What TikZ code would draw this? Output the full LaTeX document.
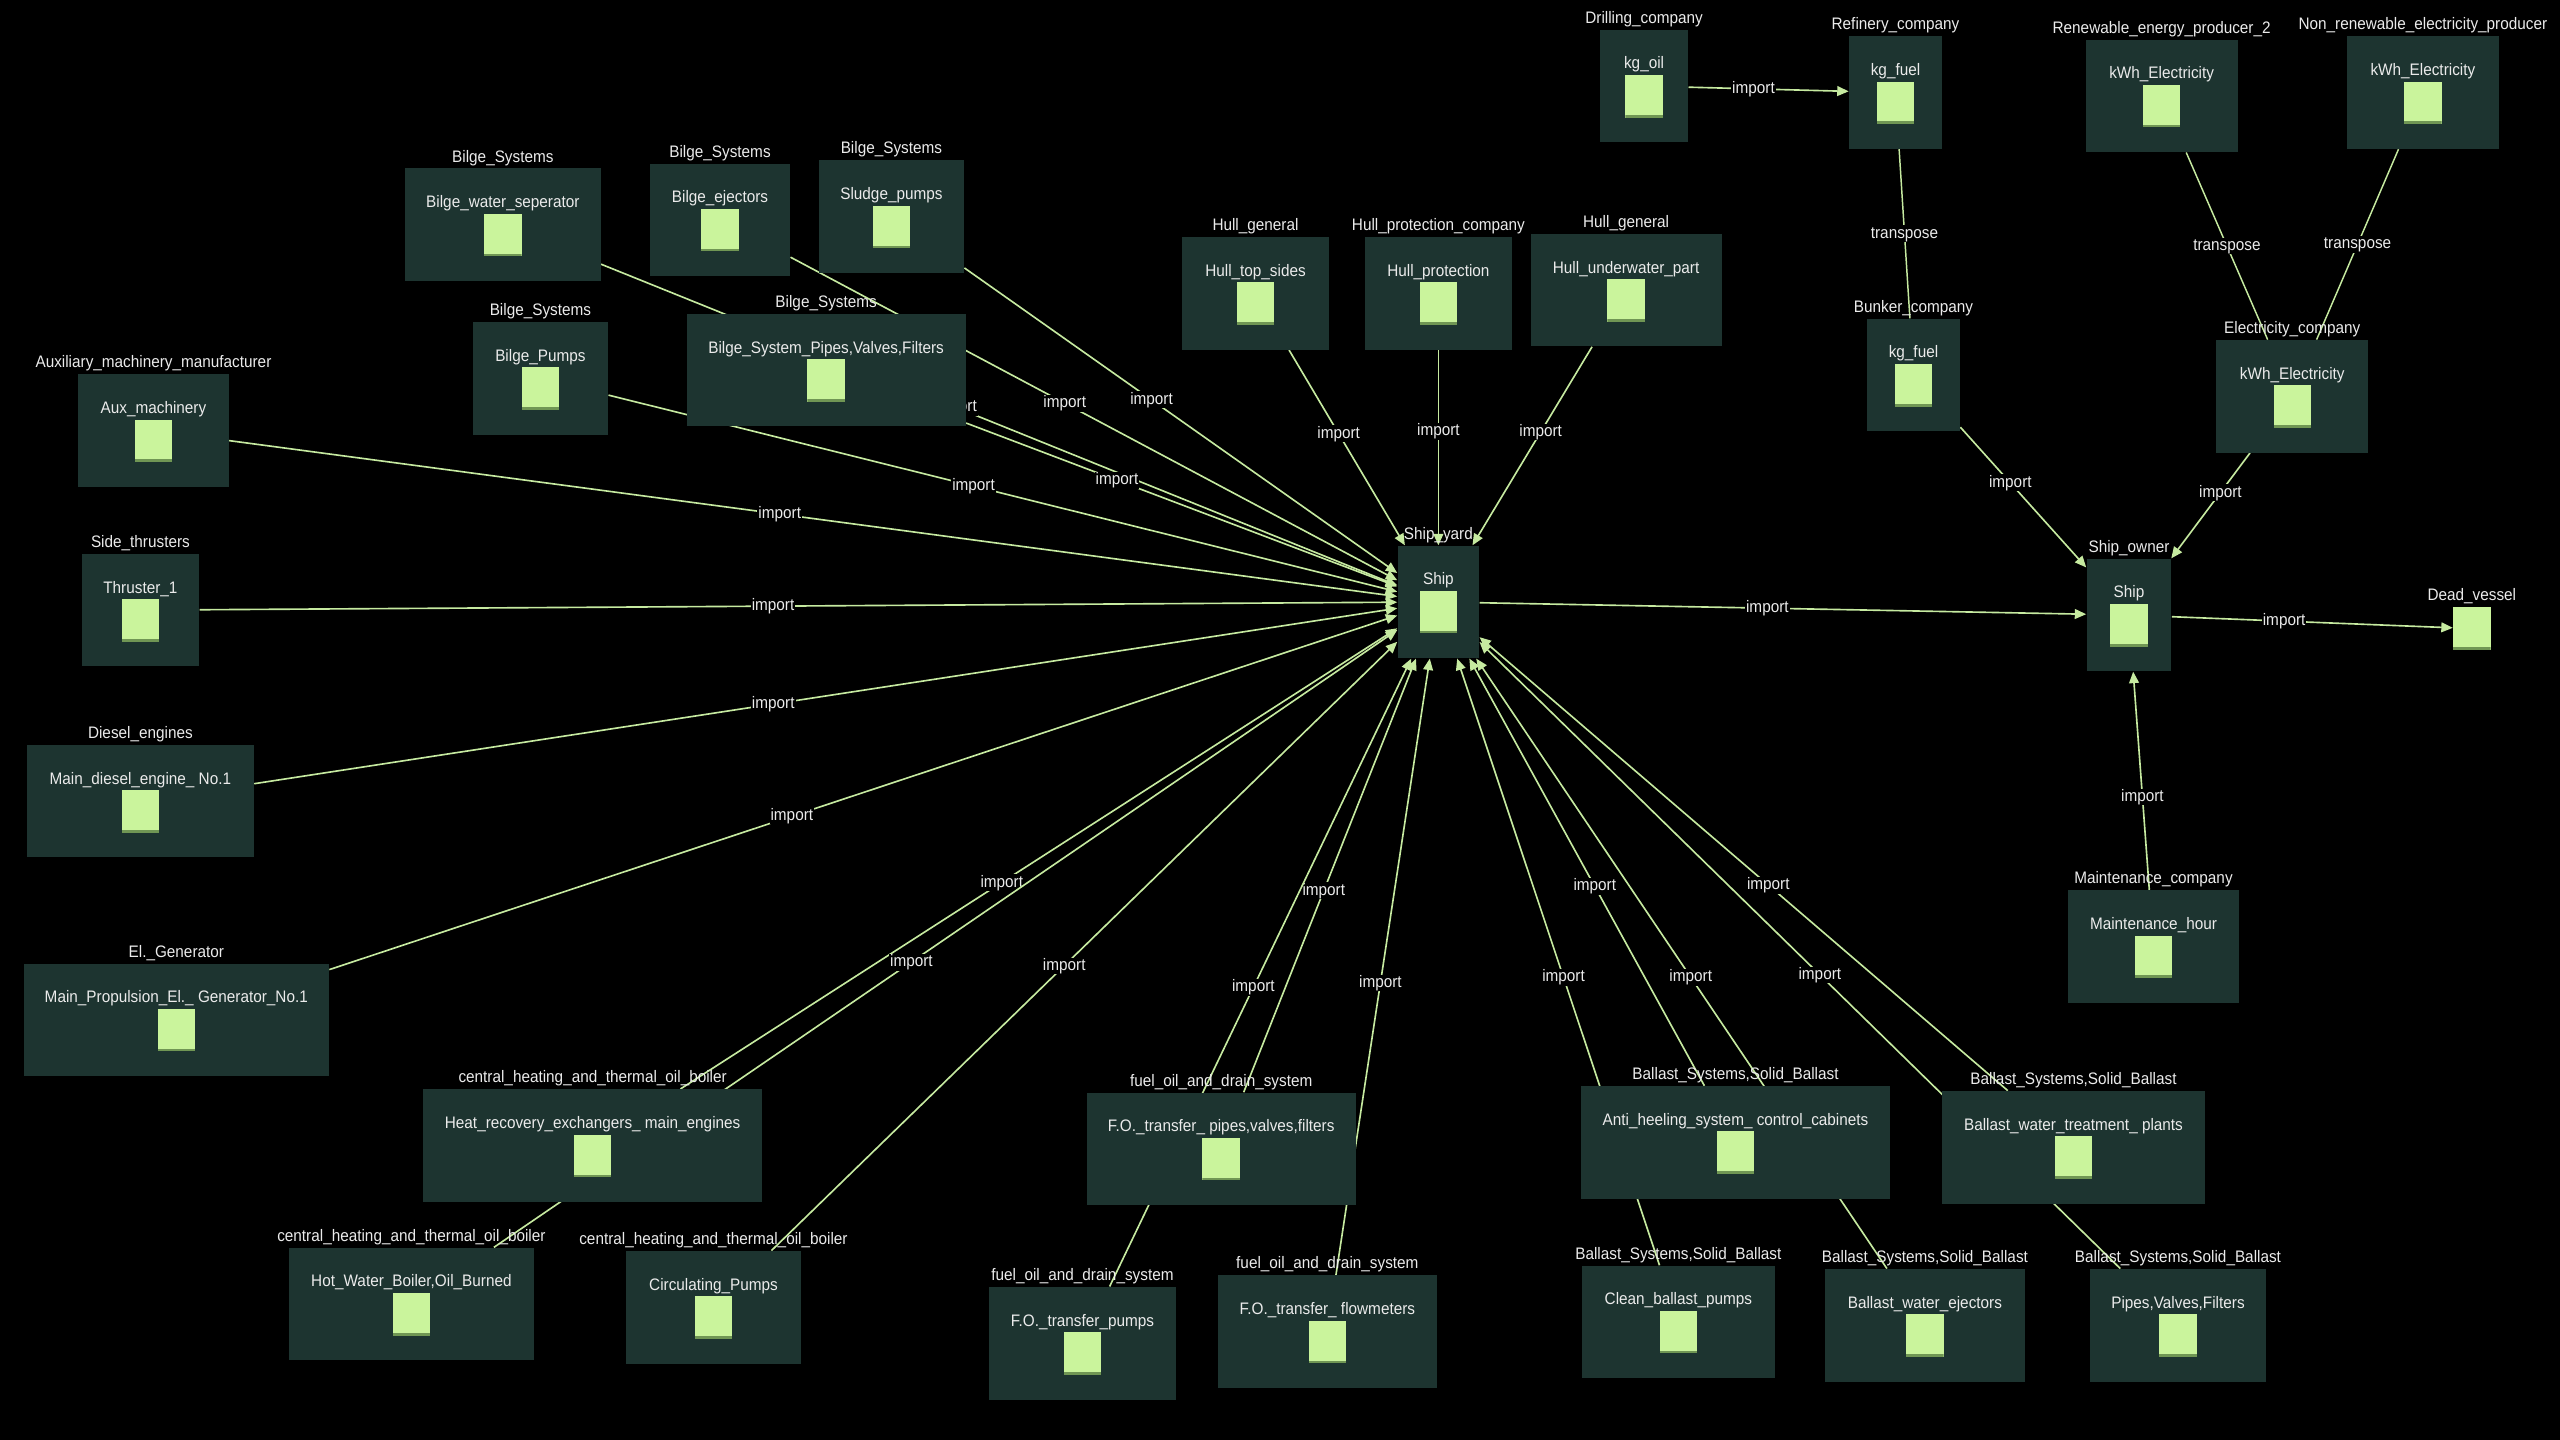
\documentclass[tikz,border=0pt]{standalone}
\usepackage{fontspec}
\setmainfont{Liberation Sans}[FakeStretch=0.92]
\usepackage{xcolor}
\usetikzlibrary{arrows.meta, calc, positioning}
\definecolor{boxfill}{RGB}{29,52,48}
\definecolor{sqgreen}{RGB}{202,244,156}
\definecolor{sqshade}{RGB}{112,150,84}
\definecolor{linegreen}{RGB}{198,234,160}
\definecolor{txtgray}{RGB}{235,235,235}
\pgfdeclarelayer{canvas}
\pgfdeclarelayer{edges}
\pgfsetlayers{canvas,edges,main}
\tikzset{
  abox/.style={fill=boxfill, minimum height=69, anchor=north, inner sep=0pt},
  sq/.style={fill=sqgreen, minimum width=23, minimum height=26, inner sep=0pt,
    path picture={\fill[sqshade] (path picture bounding box.south west) rectangle ([yshift=1.6pt]path picture bounding box.south east);}},
  txt/.style={text=txtgray, font=\fontsize{10.2}{11}\selectfont, inner sep=0.6pt, text height=7.3pt, text depth=1.8pt},
  lbl/.style={txt, fill=black},
  flow/.style={draw=linegreen, line width=1pt, -{Triangle[length=7pt,width=6pt]}},
  plain/.style={draw=linegreen, line width=0.9pt}
}
% box: nome, x, y (bordo superiore), larghezza, gruppo, testo
\newcommand{\assetbox}[6]{
  \node[abox, minimum width=#4] (#1) at (#2,#3) {};
  \node[txt] (#1-grp) at ([yshift=6.5pt]#1.north) {#5};
  \node[txt] (#1-name) at ([yshift=-21.5pt]#1.north) {#6};
  \node[sq] (#1-sq) at ([yshift=-41pt]#1.north) {};
}
% arco import: etichetta un po' verso la sorgente
\newcommand{\importlink}[2]{
  \draw[flow] (#1) -- (#2);
  \node[lbl] at ($(#1)!.5!(#2)!10pt!(#1)$) {import};
}

\begin{document}
\begin{tikzpicture}[x=1pt, y=-1pt]
    \useasboundingbox (0,0) rectangle (1568,882);
    \begin{pgfonlayer}{canvas}
    \fill[black] (0,0) rectangle (1568,882);
    \end{pgfonlayer}

    % Fornitori di energia e combustibile
    \assetbox{oil}{1007}{18}{54}{Drilling\_company}{kg\_oil}
    \assetbox{rfuel}{1161}{22}{57}{Refinery\_company}{kg\_fuel}
    \assetbox{renew}{1324}{24}{93}{Renewable\_energy\_producer\_2}{kWh\_Electricity}
    \assetbox{nonrenew}{1484}{22}{93}{Non\_renewable\_electricity\_producer}{kWh\_Electricity}
    \assetbox{bfuel}{1172}{195}{57}{Bunker\_company}{kg\_fuel}
    \assetbox{elec}{1404}{208}{93}{Electricity\_company}{kWh\_Electricity}

    % Scafo
    \assetbox{hts}{769}{145}{90}{Hull\_general}{Hull\_top\_sides}
    \assetbox{hprot}{881}{145}{90}{Hull\_protection\_company}{Hull\_protection}
    \assetbox{huw}{996}{143}{117}{Hull\_general}{Hull\_underwater\_part}

    % Sentina
    \assetbox{bws}{308}{103}{120}{Bilge\_Systems}{Bilge\_water\_seperator}
    \assetbox{bej}{441}{100}{86}{Bilge\_Systems}{Bilge\_ejectors}
    \assetbox{sludge}{546}{98}{89}{Bilge\_Systems}{Sludge\_pumps}
    \assetbox{bpumps}{331}{197}{83}{Bilge\_Systems}{Bilge\_Pumps}
    \assetbox{bpipes}{506}{192}{171}{Bilge\_Systems}{Bilge\_System\_Pipes,Valves,Filters}

    % Macchinari
    \assetbox{aux}{94}{229}{92}{Auxiliary\_machinery\_manufacturer}{Aux\_machinery}
    \assetbox{thr}{86}{339}{72}{Side\_thrusters}{Thruster\_1}
    \assetbox{diesel}{86}{456}{139}{Diesel\_engines}{Main\_diesel\_engine\_ No.1}
    \assetbox{gen}{108}{590}{187}{El.\_Generator}{Main\_Propulsion\_El.\_ Generator\_No.1}

    % Riscaldamento
    \assetbox{heat}{363}{667}{208}{central\_heating\_and\_thermal\_oil\_boiler}{Heat\_recovery\_exchangers\_ main\_engines}
    \assetbox{hotw}{252}{764}{150}{central\_heating\_and\_thermal\_oil\_boiler}{Hot\_Water\_Boiler,Oil\_Burned}
    \assetbox{circ}{437}{766}{107}{central\_heating\_and\_thermal\_oil\_boiler}{Circulating\_Pumps}

    % Combustibile
    \assetbox{fopipes}{748}{669}{165}{fuel\_oil\_and\_drain\_system}{F.O.\_transfer\_ pipes,valves,filters}
    \assetbox{fopumps}{663}{788}{115}{fuel\_oil\_and\_drain\_system}{F.O.\_transfer\_pumps}
    \assetbox{foflow}{813}{781}{134}{fuel\_oil\_and\_drain\_system}{F.O.\_transfer\_ flowmeters}

    % Zavorra
    \assetbox{anti}{1063}{665}{189}{Ballast\_Systems,Solid\_Ballast}{Anti\_heeling\_system\_ control\_cabinets}
    \assetbox{bwt}{1270}{668}{161}{Ballast\_Systems,Solid\_Ballast}{Ballast\_water\_treatment\_ plants}
    \assetbox{clean}{1028}{775}{118}{Ballast\_Systems,Solid\_Ballast}{Clean\_ballast\_pumps}
    \assetbox{bwej}{1179}{777}{122}{Ballast\_Systems,Solid\_Ballast}{Ballast\_water\_ejectors}
    \assetbox{pvf}{1334}{777}{108}{Ballast\_Systems,Solid\_Ballast}{Pipes,Valves,Filters}

    % Nave
    \assetbox{yard}{881}{334}{50}{Ship\_yard}{Ship}
    \assetbox{owner}{1304}{342}{52}{Ship\_owner}{Ship}
    \assetbox{maint}{1319}{545}{105}{Maintenance\_company}{Maintenance\_hour}
    \node[sq] (dead) at (1514,385) {};
    \node[txt] (dead-grp) at ([yshift=7pt]dead.north) {Dead\_vessel};

    % Archi
    \begin{pgfonlayer}{edges}
    \foreach \src in {bws, bej, sludge, bpumps, bpipes, aux, thr, diesel, gen,
                      heat, hotw, circ, fopipes, fopumps, foflow,
                      anti, bwt, clean, bwej, pvf, hts, hprot, huw}{
        \importlink{\src}{yard}
    }
    \importlink{oil}{rfuel}
    \draw[plain] (rfuel) -- node[lbl]{transpose} (bfuel);
    \draw[plain] (renew) -- node[lbl]{transpose} (elec);
    \draw[plain] (nonrenew) -- node[lbl]{transpose} (elec);
    \importlink{bfuel}{owner}
    \importlink{elec}{owner}
    \importlink{yard}{owner}
    \importlink{maint}{owner}
    \importlink{owner}{dead}
    \end{pgfonlayer}
\end{tikzpicture}
\end{document}
